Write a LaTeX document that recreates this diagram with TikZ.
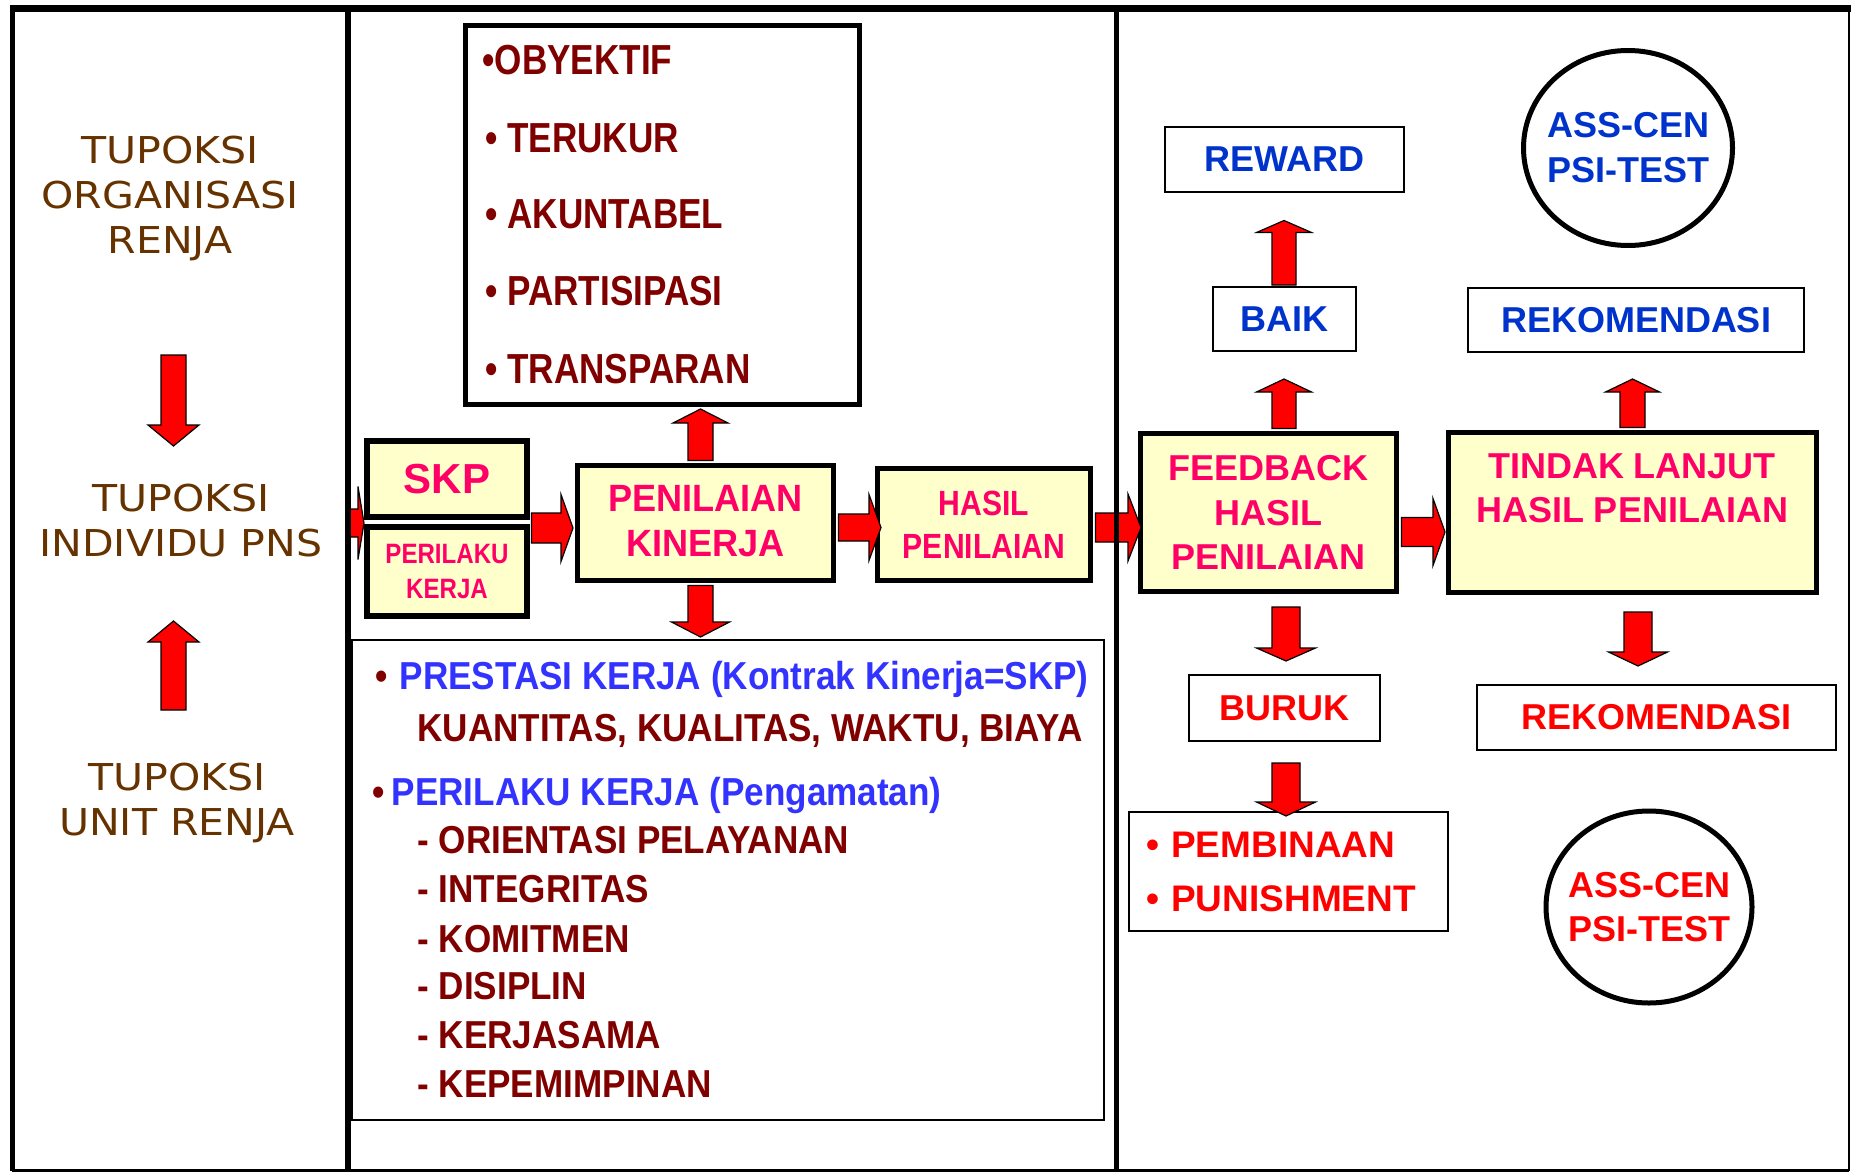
\documentclass[tikz,border=0pt]{standalone}
\usepackage{fontspec}
\usetikzlibrary{calc,shapes.geometric}
\newfontfamily\fArial{Liberation Sans}
\newfontfamily\fNarrow[FakeStretch=0.86]{Liberation Sans}
\newfontfamily\fCrit[FakeStretch=0.836]{Liberation Sans}
\newfontfamily\fList[FakeStretch=0.90]{Liberation Sans}
\newfontfamily\fNarrowB[FakeStretch=0.95]{Liberation Sans}
\newfontfamily\fLeft[FakeStretch=1.11]{DejaVu Sans}
\definecolor{yel}{RGB}{255,255,204}
\definecolor{pnk}{RGB}{255,0,102}
\definecolor{dred}{RGB}{128,0,0}
\definecolor{bblue}{RGB}{0,51,204}
\definecolor{lblue}{RGB}{51,51,255}
\definecolor{brn}{RGB}{102,51,0}
\tikzset{
  thickbox/.style={draw=black, line width=2.5pt, fill=yel, inner sep=0pt},
  thinbox/.style={draw=black, line width=1pt, fill=white, inner sep=0pt},
  ovalbox/.style={ellipse, draw=black, line width=2.5pt, fill=white, inner xsep=-6pt, inner ysep=0pt, align=center},
  fatarr/.style={fill=red, draw=black, line width=0.6pt, line join=miter},
  lefttxt/.style={inner sep=0pt, align=center, text=brn, font=\fLeft\fontsize{18.5pt}{22.5pt}\selectfont},
  crittxt/.style={inner sep=0pt, anchor=base west, text=dred, font=\fCrit\bfseries\fontsize{21pt}{25pt}\selectfont},
  listtxt/.style={inner sep=0pt, anchor=base west, text=dred, font=\fList\bfseries\fontsize{19.5pt}{23pt}\selectfont},
  arialtxt/.style={font=\fArial\bfseries\fontsize{18pt}{22.25pt}\selectfont},
}
% vertical block arrow: base, tip, half shaft, half head, signed head length
\newcommand{\vFat}[5]{\draw[fatarr] ($(#2|-#1)+(-#3,0)$) -- ($(#2)+(-#3,#5)$) -- ($(#2)+(-#4,#5)$) -- (#2) -- ($(#2)+(#4,#5)$) -- ($(#2)+(#3,#5)$) -- ($(#2|-#1)+(#3,0)$) -- cycle;}
% horizontal (rightwards) block arrow: base, tip, half shaft, half head, head length
\newcommand{\hFat}[5]{\draw[fatarr] ($(#1|-#2)+(0,-#3)$) -- ($(#2)+(-#5,-#3)$) -- ($(#2)+(-#5,-#4)$) -- (#2) -- ($(#2)+(-#5,#4)$) -- ($(#2)+(-#5,#3)$) -- ($(#1|-#2)+(0,#3)$) -- cycle;}
\begin{document}
\begin{tikzpicture}[x=0.5pt,y=-0.5pt]
\useasboundingbox (0,0) rectangle (1851,1172);
\fill[white] (0,0) rectangle (1851,1172);

% ---------- left column ----------
\node[lefttxt] (t1) at (170,198.5) {TUPOKSI\\ORGANISASI\\RENJA};
\node[lefttxt] (t2) at (181,520.5) {TUPOKSI\\INDIVIDU PNS};
\node[lefttxt] (t3) at (177,803) {TUPOKSI\\UNIT RENJA};
\coordinate (lnB) at (173.5,355); \coordinate (lnT) at (173.5,446);
\vFat{lnB}{lnT}{12.5}{25.5}{-21}
\coordinate (luB) at (173.5,710); \coordinate (luT) at (173.5,621);
\vFat{luB}{luT}{12.5}{25.5}{21}

% ---------- middle column ----------
\node[thickbox, fill=white, minimum width=197pt, minimum height=189.5pt] (crit) at (662.5,215) {};
\node[crittxt] (c1) at (482,75) {•OBYEKTIF};
\node[crittxt] (c2) at (485,152) {• TERUKUR};
\node[crittxt] (c3) at (485,228) {• AKUNTABEL};
\node[crittxt] (c4) at (485,305) {• PARTISIPASI};
\node[crittxt] (c5) at (485,383) {• TRANSPARAN};

\node[thickbox, line width=3pt, minimum width=80pt, minimum height=38pt, text=pnk,
      font=\fArial\bfseries\fontsize{21pt}{25pt}\selectfont] (skp) at (447,479) {SKP};
\node[thickbox, line width=3pt, minimum width=80pt, minimum height=44.5pt, align=center, text=pnk,
      font=\fNarrow\bfseries\fontsize{14pt}{17.5pt}\selectfont] (per) at (447,571.5) {PERILAKU\\KERJA};
\node[thickbox, minimum width=128pt, minimum height=57.5pt, align=center, text=pnk,
      font=\fNarrowB\bfseries\fontsize{19pt}{22.5pt}\selectfont] (pen) at (705.5,523) {PENILAIAN\\KINERJA\rule[-2.5pt]{0pt}{1pt}};
\node[thickbox, minimum width=106.5pt, minimum height=56pt, align=center, text=pnk,
      font=\fNarrow\bfseries\fontsize{17.5pt}{21.5pt}\selectfont] (hasil) at (984,524.5) {HASIL\\PENILAIAN};

\node[thinbox, minimum width=376pt, minimum height=240pt] (lbox) at (728,880) {};
\node[listtxt] (l1) at (375,689) {•\hspace{6pt}\textcolor{lblue}{PRESTASI KERJA (Kontrak Kinerja=SKP)}};
\node[listtxt] (l2) at (417,741) {KUANTITAS, KUALITAS, WAKTU, BIAYA};
\node[listtxt] (l3) at (372,805) {•\hspace{3.5pt}\textcolor{lblue}{PERILAKU KERJA (Pengamatan)}};
\node[listtxt] (l4) at (417,853) {- ORIENTASI PELAYANAN};
\node[listtxt] (l5) at (417,902) {- INTEGRITAS};
\node[listtxt] (l6) at (417,952) {- KOMITMEN};
\node[listtxt] (l7) at (417,999) {- DISIPLIN};
\node[listtxt] (l8) at (417,1048) {- KERJASAMA};
\node[listtxt] (l9) at (417,1097) {- KEPEMIMPINAN};

% ---------- right column ----------
\node[thickbox, minimum width=128pt, minimum height=79pt, align=center, text=pnk, arialtxt] (feed) at (1268.5,512.5) {FEEDBACK\\HASIL\\PENILAIAN};
\node[thickbox, minimum width=184pt, minimum height=80pt] (tindak) at (1632.5,512.5) {};
\node[inner sep=0pt, align=center, text=pnk, font=\fArial\bfseries\fontsize{18pt}{22pt}\selectfont] (tindakt) at (1632,488) {TINDAK LANJUT\\HASIL PENILAIAN};
\node[thinbox, minimum width=119.5pt, minimum height=32.5pt, text=bblue, arialtxt] (reward) at (1284.5,159.5) {REWARD};
\node[thinbox, minimum width=71.5pt, minimum height=32pt, text=bblue, arialtxt] (baik) at (1284.5,319) {BAIK};
\node[thinbox, minimum width=168pt, minimum height=32pt, text=bblue, arialtxt] (rekb) at (1636,320) {REKOMENDASI};
\node[ovalbox, minimum width=104.5pt, minimum height=97.5pt, text=bblue, font=\fArial\bfseries\fontsize{18pt}{22.5pt}\selectfont] (circ1) at (1628,148) {ASS-CEN\\PSI-TEST};
\node[thinbox, minimum width=95.5pt, minimum height=33pt, text=red, arialtxt] (buruk) at (1284.5,708) {BURUK};
\node[thinbox, minimum width=159.5pt, minimum height=59.5pt, text width=142.5pt, align=left, text=red, font=\fArial\bfseries\fontsize{18.5pt}{27pt}\selectfont] (pemb) at (1288.5,871.5) {• PEMBINAAN\\• PUNISHMENT};
\node[thinbox, minimum width=179.5pt, minimum height=32.5pt, text=red, arialtxt] (rekr) at (1656.5,717.5) {REKOMENDASI};
\node[ovalbox, minimum width=103pt, minimum height=96pt, text=red, font=\fArial\bfseries\fontsize{18pt}{22pt}\selectfont] (circ2) at (1649,907) {ASS-CEN\\PSI-TEST};

% ---------- block arrows ----------
\coordinate (aB) at (348,523); \coordinate (aT) at (364,523);
\hFat{aB}{aT}{14}{36.5}{6}
\coordinate (bB) at ($(skp.east)+(1.5,0)$); \coordinate (bT) at (573,528);
\hFat{bB}{bT}{15}{33.5}{12}
\coordinate (cB) at ($(pen.east)+(2.5,0)$); \coordinate (cT) at (881,527.5);
\hFat{cB}{cT}{13.5}{33}{12}
\coordinate (dB) at ($(hasil.east)+(2.5,0)$); \coordinate (dT) at (1141,527.5);
\hFat{dB}{dT}{14.5}{33.5}{13}
\coordinate (eB) at ($(feed.east)+(2.5,0)$); \coordinate (eT) at (1445,532);
\hFat{eB}{eT}{14.5}{33.5}{12}
\coordinate (fB) at ($(pen.north)+(0,-2.5)$); \coordinate (fT) at (700.5,409);
\vFat{fB}{fT}{12.5}{27.5}{14}
\coordinate (gB) at ($(pen.south)+(0,2.5)$); \coordinate (gT) at (700.5,637);
\vFat{gB}{gT}{12.5}{29}{-15}
\coordinate (hB) at ($(feed.north)+(0,-2.5)$); \coordinate (hT) at (1284,379);
\vFat{hB}{hT}{12}{27.5}{13}
\coordinate (iB) at ($(baik.north)+(0,-1)$); \coordinate (iT) at (1284,220.5);
\vFat{iB}{iT}{12}{27.5}{12}
\coordinate (jB) at ($(tindak.north)+(0,-2.5)$); \coordinate (jT) at (1632.5,379);
\vFat{jB}{jT}{12.5}{27}{13}
\coordinate (kB) at (1286,607); \coordinate (kT) at (1286,661);
\vFat{kB}{kT}{14}{29.5}{-13}
\coordinate (lB) at (1286,763); \coordinate (lT) at (1286,816);
\vFat{lB}{lT}{14}{29.5}{-14}
\coordinate (mB) at (1638,612); \coordinate (mT) at (1638,666);
\vFat{mB}{mT}{14}{29.5}{-14}

% ---------- frame and separators ----------
\draw[line width=3.5pt] (10,8.5) -- (1851,8.5);
\draw[line width=2.5pt] (12,8.5) -- (12,1170.5);
\draw[line width=1.25pt] (12,1170.5) -- (1849,1170.5);
\draw[line width=1.25pt] (1849,8.5) -- (1849,1170.5);
\draw[line width=2.75pt] (348,8.5) -- (348,1170.5);
\draw[line width=2.5pt] (1116,8.5) -- (1116,1170.5);
\end{tikzpicture}
\end{document}
